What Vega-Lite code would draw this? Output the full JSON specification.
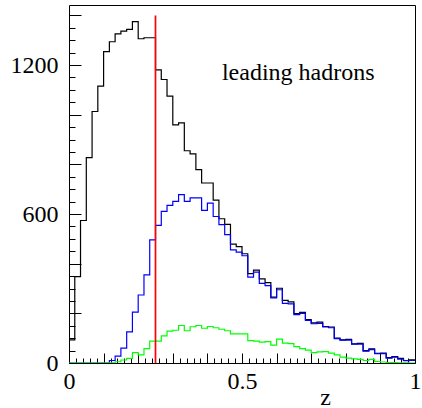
{
  "$schema": "https://vega.github.io/schema/vega-lite/v6.json",
  "autosize": {"type": "none"},
  "padding": {"left": 69, "top": 5, "right": 7, "bottom": 45},
  "width": 346,
  "height": 358,
  "background": "white",
  "config": {
    "view": {"stroke": "black", "strokeWidth": 1},
    "font": "Liberation Serif, DejaVu Serif, serif"
  },
  "data": {
    "values": [
      {"z": 0, "black": 93, "blue": 0, "green": 0},
      {"z": 0.0167, "black": 348, "blue": 0, "green": 0},
      {"z": 0.0333, "black": 574, "blue": 0, "green": 0},
      {"z": 0.05, "black": 827, "blue": 0, "green": 0},
      {"z": 0.0667, "black": 1013, "blue": 0, "green": 0},
      {"z": 0.0833, "black": 1115, "blue": 0, "green": 0},
      {"z": 0.1, "black": 1254, "blue": 0, "green": 0},
      {"z": 0.1167, "black": 1294, "blue": 10, "green": 1},
      {"z": 0.1333, "black": 1326, "blue": 28, "green": 5},
      {"z": 0.15, "black": 1337, "blue": 60, "green": 12},
      {"z": 0.1667, "black": 1344, "blue": 125, "green": 19},
      {"z": 0.1833, "black": 1375, "blue": 205, "green": 42},
      {"z": 0.2, "black": 1306, "blue": 274, "green": 33},
      {"z": 0.2167, "black": 1310, "blue": 355, "green": 58},
      {"z": 0.2333, "black": 1310, "blue": 496, "green": 88},
      {"z": 0.25, "black": 1181, "blue": 554, "green": 88},
      {"z": 0.2667, "black": 1142, "blue": 611, "green": 109},
      {"z": 0.2833, "black": 1075, "blue": 635, "green": 128},
      {"z": 0.3, "black": 959, "blue": 651, "green": 132},
      {"z": 0.3167, "black": 967, "blue": 678, "green": 151},
      {"z": 0.3333, "black": 855, "blue": 651, "green": 130},
      {"z": 0.35, "black": 842, "blue": 665, "green": 146},
      {"z": 0.3667, "black": 779, "blue": 665, "green": 151},
      {"z": 0.3833, "black": 725, "blue": 615, "green": 140},
      {"z": 0.4, "black": 725, "blue": 644, "green": 147},
      {"z": 0.4167, "black": 656, "blue": 590, "green": 142},
      {"z": 0.4333, "black": 581, "blue": 557, "green": 136},
      {"z": 0.45, "black": 558, "blue": 517, "green": 130},
      {"z": 0.4667, "black": 479, "blue": 456, "green": 117},
      {"z": 0.4833, "black": 469, "blue": 447, "green": 117},
      {"z": 0.5, "black": 440, "blue": 432, "green": 117},
      {"z": 0.5167, "black": 360, "blue": 346, "green": 90},
      {"z": 0.5333, "black": 374, "blue": 366, "green": 88},
      {"z": 0.55, "black": 339, "blue": 321, "green": 84},
      {"z": 0.5667, "black": 324, "blue": 312, "green": 86},
      {"z": 0.5833, "black": 265, "blue": 262, "green": 72},
      {"z": 0.6, "black": 301, "blue": 295, "green": 96},
      {"z": 0.6167, "black": 252, "blue": 240, "green": 80},
      {"z": 0.6333, "black": 246, "blue": 238, "green": 78},
      {"z": 0.65, "black": 199, "blue": 195, "green": 66},
      {"z": 0.6667, "black": 204, "blue": 200, "green": 58},
      {"z": 0.6833, "black": 175, "blue": 172, "green": 52},
      {"z": 0.7, "black": 162, "blue": 158, "green": 42},
      {"z": 0.7167, "black": 165, "blue": 160, "green": 45},
      {"z": 0.7333, "black": 147, "blue": 145, "green": 46},
      {"z": 0.75, "black": 145, "blue": 142, "green": 40},
      {"z": 0.7667, "black": 100, "blue": 98, "green": 33},
      {"z": 0.7833, "black": 93, "blue": 92, "green": 24},
      {"z": 0.8, "black": 95, "blue": 92, "green": 20},
      {"z": 0.8167, "black": 77, "blue": 76, "green": 17},
      {"z": 0.8333, "black": 79, "blue": 76, "green": 15},
      {"z": 0.85, "black": 50, "blue": 48, "green": 10},
      {"z": 0.8667, "black": 57, "blue": 54, "green": 15},
      {"z": 0.8833, "black": 39, "blue": 38, "green": 6},
      {"z": 0.9, "black": 40, "blue": 38, "green": 4},
      {"z": 0.9167, "black": 22, "blue": 20, "green": 2},
      {"z": 0.9333, "black": 26, "blue": 24, "green": 2},
      {"z": 0.95, "black": 19, "blue": 16, "green": 1},
      {"z": 0.9667, "black": 10, "blue": 9, "green": 1},
      {"z": 0.9833, "black": 13, "blue": 10, "green": 0},
      {"z": 1, "black": 13, "blue": 10, "green": 0}
    ]
  },
  "resolve": {"axis": {"x": "independent", "y": "independent"}},
  "layer": [
    {
      "mark": {"type": "line", "interpolate": "step-after", "color": "black", "strokeWidth": 1.2, "clip": true},
      "encoding": {
        "x": {
          "field": "z", "type": "quantitative",
          "scale": {"domain": [0, 1], "nice": false, "zero": false},
          "axis": {
            "orient": "bottom",
            "values": [0, 0.1, 0.2, 0.3, 0.4, 0.5, 0.6, 0.7, 0.8, 0.9, 1],
            "labelExpr": "datum.value == 0 ? '0' : (datum.value == 0.5 ? '0.5' : (datum.value == 1 ? '1' : ''))",
            "tickSize": -10, "tickColor": "black", "tickWidth": 1,
            "domain": false, "grid": false,
            "labelFont": "Liberation Serif, DejaVu Serif, serif", "labelFontSize": 24, "labelColor": "black",
            "labelPadding": 35, "labelFlush": false, "labelOverlap": false, "labelBaseline": "alphabetic",
            "title": "z", "titleFont": "Liberation Serif, DejaVu Serif, serif", "titleFontSize": 24, "titleFontWeight": "normal",
            "titleColor": "black", "titleX": 256, "titleY": 41, "titleAlign": "center", "titleBaseline": "alphabetic"
          }
        },
        "y": {
          "field": "black", "type": "quantitative",
          "scale": {"domain": [0, 1442], "nice": false},
          "axis": {
            "orient": "left",
            "values": [0, 200, 400, 600, 800, 1000, 1200, 1400],
            "format": "d",
            "labelExpr": "datum.value % 600 == 0 ? datum.label : ''",
            "tickSize": -12, "tickColor": "black", "tickWidth": 1,
            "domain": false, "grid": false,
            "labelFont": "Liberation Serif, DejaVu Serif, serif", "labelFontSize": 24, "labelColor": "black",
            "labelPadding": 23, "labelFlush": false, "labelOverlap": false, "labelBaseline": "middle",
            "title": null
          }
        }
      }
    },
    {
      "mark": {"type": "line", "interpolate": "step-after", "color": "#0000ff", "strokeWidth": 1.2, "clip": true},
      "encoding": {
        "x": {
          "field": "z", "type": "quantitative",
          "scale": {"domain": [0, 1], "nice": false, "zero": false},
          "axis": {
            "orient": "bottom",
            "values": [0, 0.02, 0.04, 0.06, 0.08, 0.12, 0.14, 0.16, 0.18, 0.22, 0.24, 0.26, 0.28, 0.32, 0.34, 0.36, 0.38, 0.42, 0.44, 0.46, 0.48, 0.52, 0.54, 0.56, 0.58, 0.62, 0.64, 0.66, 0.68, 0.72, 0.74, 0.76, 0.78, 0.82, 0.84, 0.86, 0.88, 0.92, 0.94, 0.96, 0.98],
            "tickSize": -5, "tickColor": "black", "tickWidth": 1,
            "labels": false, "domain": false, "grid": false, "title": null
          }
        },
        "y": {
          "field": "blue", "type": "quantitative",
          "scale": {"domain": [0, 1442], "nice": false},
          "axis": {
            "orient": "left",
            "values": [50, 100, 150, 250, 300, 350, 450, 500, 550, 650, 700, 750, 850, 900, 950, 1050, 1100, 1150, 1250, 1300, 1350],
            "tickSize": -6, "tickColor": "black", "tickWidth": 1,
            "labels": false, "domain": false, "grid": false, "title": null
          }
        }
      }
    },
    {
      "mark": {"type": "line", "interpolate": "step-after", "color": "#00ff00", "strokeWidth": 1.2, "clip": true},
      "encoding": {
        "x": {"field": "z", "type": "quantitative", "scale": {"domain": [0, 1], "nice": false, "zero": false}, "axis": null},
        "y": {"field": "green", "type": "quantitative", "scale": {"domain": [0, 1442], "nice": false}, "axis": null}
      }
    },
    {
      "data": {"values": [{"z": 0.25, "lo": 0, "hi": 1400}]},
      "mark": {"type": "rule", "color": "#ff0000", "stroke": "#ff0000", "strokeWidth": 1.7, "opacity": 1},
      "encoding": {
        "x": {"field": "z", "type": "quantitative", "scale": {"domain": [0, 1], "nice": false, "zero": false}, "axis": null},
        "y": {"field": "lo", "type": "quantitative", "scale": {"domain": [0, 1442], "nice": false}, "axis": null},
        "y2": {"field": "hi"}
      }
    },
    {
      "data": {"values": [{"z": 0.442, "v": 1140, "label": "leading hadrons"}]},
      "mark": {"type": "text", "font": "Liberation Serif, DejaVu Serif, serif", "fontSize": 24, "color": "black", "align": "left", "baseline": "alphabetic"},
      "encoding": {
        "x": {"field": "z", "type": "quantitative", "scale": {"domain": [0, 1], "nice": false, "zero": false}, "axis": null},
        "y": {"field": "v", "type": "quantitative", "scale": {"domain": [0, 1442], "nice": false}, "axis": null},
        "text": {"field": "label", "type": "nominal"}
      }
    }
  ]
}
